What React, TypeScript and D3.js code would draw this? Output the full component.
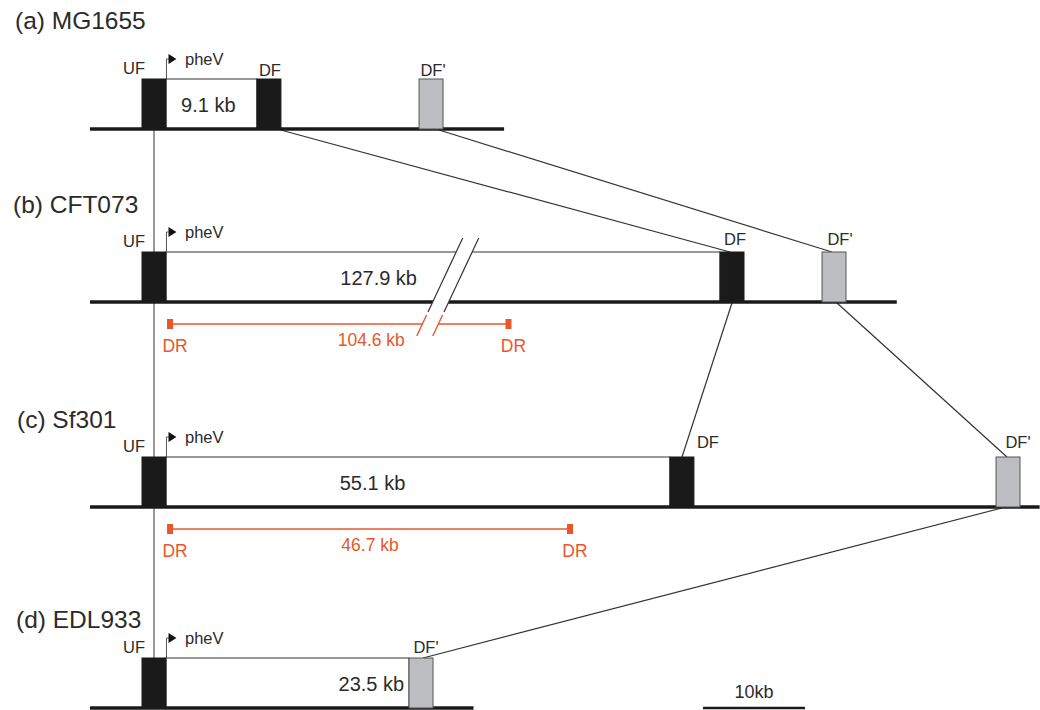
import React from "react";
import * as d3 from "d3";

// Strain names, one genome track per strain
const strains = ["(a) MG1655", "(b) CFT073", "(c) Sf301", "(d) EDL933"];
// Size of the pheV-associated island between UF and the next flank
const islandLabels = ["9.1 kb", "127.9 kb", "55.1 kb", "23.5 kb"];
// Positions along each track in kb, measured from the start of UF
const ufStart = [0, 0, 0, 0];
const dfStart = [11.27, 56.67, 51.76, null];
const dfPrimeStart = [27.16, 66.67, 83.73, 26.18];
const chromStart = [-5.1, -5.1, -5.1, -5.1];
const chromEnd = [35.5, 74.0, 88.0, 32.5];
const flankWidth = 2.35;
// Direct repeats flanking the excisable element
const drStart = [null, 2.75, 2.75, null];
const drEnd = [null, 35.93, 41.96, null];
const drLabels = [null, "104.6 kb", "46.7 kb", null];
// Homologous flanks linked between neighbouring tracks: [fromTrack, fromKb, toTrack, toKb]
const links: [number, number, number, number][] = [
  [0, 13.6, 1, 57.65],
  [0, 29.12, 1, 67.65],
  [1, 57.84, 2, 52.94],
  [1, 68.14, 2, 84.8],
  [2, 84.31, 3, 27.55],
];
const scaleBarKb = [55, 65];
const scaleBarLabel = "10kb";

// Layout
const baselineY = [129, 302, 507, 708];
const titleX = [15, 13, 17, 16];
const titleDy = [-100, -89, -79, -80];
const boxH = 50;
const islandLabelX = [6.5, 23.2, 22.6, 25.7];
const islandAnchor = ["middle", "middle", "middle", "end"];
const dfLabelDx = [1, 3, 26, 0];
const dfLabelDy = [-3, -7, -9, -5];
const dfPrimeLabelDx = [2, 6, 10, 5];
const breakKb = 28.5; // axis break on the CFT073 track

const RED = "#E8572A";
const INK = "#2b2b2b";
const GREY = "#BDBEC1";
const FONT = "'Liberation Sans', Arial, Helvetica, sans-serif";

export default function App() {
  const x = d3.scaleLinear().domain([0, 10]).range([142, 244]);
  const fw = x(flankWidth) - x(0);

  const lineGen = d3.line<[number, number]>();

  // break slashes: steep parallel lines with a white gap between them
  const slope = 46 / 98;
  const bx = (y: number, off: number) => x(breakKb) + off - (y - baselineY[1]) * slope;
  const slashTop = 238;
  const slashBlackEnd = 312;
  const slashRedStart = 315;
  const slashBottom = 336;

  return (
    <svg
      width={1040}
      height={710}
      style={{ position: "absolute", left: 0, top: 0, background: "#fff" }}
      fontFamily={FONT}
    >
      {/* UF alignment line running down through all tracks */}
      <path
        d={lineGen([
          [x(ufStart[0] + flankWidth / 2), baselineY[0]],
          [x(ufStart[3] + flankWidth / 2), baselineY[3] - boxH],
        ]) as string}
        stroke="#555"
        strokeWidth={1.2}
      />
      {/* links between homologous flanks */}
      {links.map(([t0, k0, t1, k1], i) => (
        <path
          key={"l" + i}
          d={lineGen([
            [x(k0), baselineY[t0] + 1],
            [x(k1), baselineY[t1] - boxH],
          ]) as string}
          stroke="#333"
          strokeWidth={1.2}
          fill="none"
        />
      ))}

      {strains.map((name, i) => {
        const by = baselineY[i];
        const top = by - boxH;
        const ufX = x(ufStart[i]);
        const endFlank = dfStart[i] != null ? (dfStart[i] as number) : dfPrimeStart[i];
        return (
          <g key={name}>
            <text x={titleX[i]} y={by + titleDy[i]} fontSize={24.5} fill={INK}>
              {name}
            </text>
            {/* island body */}
            <rect
              x={ufX + fw}
              y={top}
              width={x(endFlank) - ufX - fw}
              height={boxH}
              fill="#fff"
              stroke="#333"
              strokeWidth={1}
            />
            {/* chromosome backbone */}
            <line x1={x(chromStart[i])} x2={x(chromEnd[i])} y1={by} y2={by} stroke="#1a1a1a" strokeWidth={3.5} />
            {/* UF */}
            <rect x={ufX} y={top} width={fw} height={boxH} fill="#1a1a1a" stroke="#1a1a1a" strokeWidth={1} />
            <text x={ufX - 8} y={top - 5} fontSize={16.5} fill={INK} textAnchor="middle">
              UF
            </text>
            {/* pheV promoter arrow */}
            <path d={`M${ufX + fw + 0.5},${top} V${top - 20} H${ufX + fw + 3}`} stroke="#555" strokeWidth={1} fill="none" />
            <path
              d={`M${ufX + fw + 2.5},${top - 25} L${ufX + fw + 10.5},${top - 20} L${ufX + fw + 2.5},${top - 15} Z`}
              fill="#111"
            />
            <text x={ufX + fw + 19} y={top - 14} fontSize={16.5} fill={INK}>
              pheV
            </text>
            {/* DF */}
            {dfStart[i] != null && (
              <g>
                <rect x={x(dfStart[i] as number)} y={top} width={fw} height={boxH} fill="#1a1a1a" stroke="#1a1a1a" />
                <text
                  x={x(dfStart[i] as number) + fw / 2 + dfLabelDx[i]}
                  y={top + dfLabelDy[i]}
                  fontSize={16.5}
                  fill={INK}
                  textAnchor="middle"
                >
                  DF
                </text>
              </g>
            )}
            {/* DF' */}
            <rect x={x(dfPrimeStart[i])} y={top} width={fw} height={boxH} fill={GREY} stroke="#555" strokeWidth={1} />
            <text
              x={x(dfPrimeStart[i]) + fw / 2 + dfPrimeLabelDx[i]}
              y={top + dfLabelDy[i]}
              fontSize={16.5}
              fill={INK}
              textAnchor="middle"
            >
              DF'
            </text>
            <text
              x={x(islandLabelX[i])}
              y={by - boxH / 2 + 8}
              fontSize={20}
              fill={INK}
              textAnchor={islandAnchor[i] as any}
            >
              {islandLabels[i]}
            </text>
            {/* direct repeats */}
            {drStart[i] != null && (
              <g>
                <line
                  x1={x(drStart[i] as number)}
                  x2={x(drEnd[i] as number)}
                  y1={by + 22}
                  y2={by + 22}
                  stroke={RED}
                  strokeWidth={1.6}
                />
                {[drStart[i], drEnd[i]].map((k, j) => (
                  <g key={j}>
                    <rect x={x(k as number) - 3} y={by + 17} width={6} height={10} fill={RED} />
                    <text x={x(k as number) + 5} y={by + 50} fontSize={17.5} fill={RED} textAnchor="middle">
                      DR
                    </text>
                  </g>
                ))}
                <text
                  x={(x(drStart[i] as number) + x(drEnd[i] as number)) / 2 + (i === 1 ? 32 : 0)}
                  y={by + 44}
                  fontSize={17.5}
                  fill={RED}
                  textAnchor="middle"
                >
                  {drLabels[i]}
                </text>
              </g>
            )}
          </g>
        );
      })}

      {/* axis break on the long CFT073 island */}
      <path
        d={`M${bx(slashTop, 0)},${slashTop} L${bx(slashTop, 16)},${slashTop} L${bx(slashBottom, 16)},${slashBottom} L${bx(slashBottom, 0)},${slashBottom} Z`}
        fill="#fff"
      />
      {[0, 16].map((off) => (
        <g key={off}>
          <line
            x1={bx(slashTop, off)}
            y1={slashTop}
            x2={bx(slashBlackEnd, off)}
            y2={slashBlackEnd}
            stroke="#333"
            strokeWidth={1.2}
          />
          <line
            x1={bx(slashRedStart, off)}
            y1={slashRedStart}
            x2={bx(slashBottom, off)}
            y2={slashBottom}
            stroke={RED}
            strokeWidth={1.4}
          />
        </g>
      ))}

      {/* scale bar */}
      <line
        x1={x(scaleBarKb[0])}
        x2={x(scaleBarKb[1])}
        y1={baselineY[3]}
        y2={baselineY[3]}
        stroke="#1a1a1a"
        strokeWidth={2.5}
      />
      <text
        x={(x(scaleBarKb[0]) + x(scaleBarKb[1])) / 2}
        y={baselineY[3] - 10}
        fontSize={18}
        fill={INK}
        textAnchor="middle"
      >
        {scaleBarLabel}
      </text>
    </svg>
  );
}
